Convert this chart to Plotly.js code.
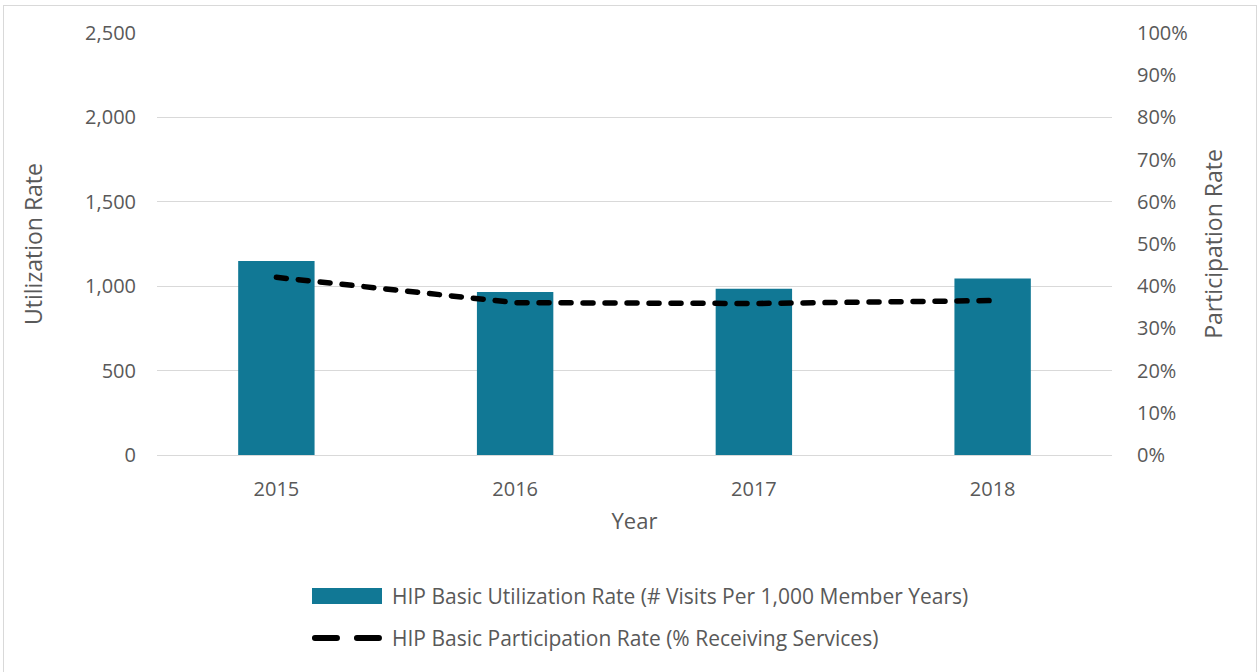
<!DOCTYPE html>
<html>
<head>
<meta charset="utf-8">
<script src="https://cdn.plot.ly/plotly-3.0.1.min.js"></script>
<style>
  html, body { margin: 0; padding: 0; background: #ffffff; }
  #frame { position: absolute; left: 3px; top: 5px; width: 1254px; height: 700px; border: 1px solid #d9d9d9; box-sizing: border-box; }
  #chart { position: absolute; left: 0; top: 0; width: 1260px; height: 672px; }
</style>
</head>
<body>
<div id="frame"></div>
<div id="chart"></div>
<script>
// Years on the category axis
const years = ['2015', '2016', '2017', '2018'];
// Visits per 1,000 member years
const utilization = [1150, 965, 985, 1045];
// Share of members receiving services (fraction)
const participation = [0.421, 0.361, 0.359, 0.366];

const barName = 'HIP Basic Utilization Rate (# Visits Per 1,000 Member Years)';
const lineName = 'HIP Basic Participation Rate (% Receiving Services)';

const textColor = '#595959';
const gridColor = '#d9d9d9';
const barColor = '#117895';
const fontFamily = '"Open Sans", "Noto Sans", sans-serif';

const traces = [
  {
    type: 'bar',
    x: years,
    y: utilization,
    name: barName,
    marker: { color: barColor },
    width: 0.32,
    yaxis: 'y'
  },
  {
    type: 'scatter',
    mode: 'lines',
    x: years,
    y: participation,
    name: lineName,
    line: { color: '#000000', width: 5.5, dash: '10px,12px' },
    yaxis: 'y2'
  }
];

const layout = {
  width: 1260,
  height: 672,
  margin: { l: 157, r: 148, t: 33, b: 217 },
  paper_bgcolor: 'rgba(0,0,0,0)',
  plot_bgcolor: 'rgba(0,0,0,0)',
  showlegend: false,
  font: { family: fontFamily, color: textColor, size: 20 },
  xaxis: {
    type: 'category',
    showgrid: false,
    showline: false,
    zeroline: false,
    ticks: '',
    ticklabelstandoff: 20,
    tickfont: { size: 20, color: textColor },
    title: { text: 'Year', font: { size: 22, color: textColor }, standoff: 12 }
  },
  yaxis: {
    range: [0, 2500],
    dtick: 500,
    tickformat: ',d',
    showgrid: true,
    gridcolor: gridColor,
    gridwidth: 1,
    zeroline: true,
    zerolinecolor: gridColor,
    zerolinewidth: 1,
    showline: false,
    ticks: '',
    ticklabelstandoff: 20,
    tickfont: { size: 20, color: textColor },
    title: { text: 'Utilization Rate', font: { size: 23, color: textColor }, standoff: 36 }
  },
  yaxis2: {
    overlaying: 'y',
    side: 'right',
    range: [0, 1],
    dtick: 0.1,
    tickformat: '.0%',
    showgrid: false,
    zeroline: false,
    showline: false,
    ticks: '',
    ticklabelstandoff: 24,
    tickfont: { size: 20, color: textColor },
    title: { text: 'Participation Rate', font: { size: 23, color: textColor }, standoff: 19 }
  },
  shapes: [
    // legend swatch for the bars
    { type: 'rect', xref: 'paper', yref: 'paper',
      x0: 0.1623, x1: 0.2356, y0: -0.3152, y1: -0.3531,
      fillcolor: barColor, line: { width: 0 } },
    // legend swatch for the dashed line
    { type: 'line', xref: 'paper', yref: 'paper',
      x0: 0.1654, x1: 0.2325, y0: -0.4336, y1: -0.4336,
      line: { color: '#000000', width: 6, dash: '22px,20px' } }
  ],
  annotations: [
    { xref: 'paper', yref: 'paper', x: 0.2440, y: -0.3341, xanchor: 'left', yanchor: 'middle',
      showarrow: false, text: barName, font: { size: 21, color: textColor } },
    { xref: 'paper', yref: 'paper', x: 0.2440, y: -0.4336, xanchor: 'left', yanchor: 'middle',
      showarrow: false, text: lineName, font: { size: 21, color: textColor } }
  ]
};

Plotly.newPlot('chart', traces, layout, { displayModeBar: false, staticPlot: true }).then(function (gd) {
  // rounded dash ends
  gd.querySelectorAll('.scatterlayer path.js-line, .layer-above path, .shapelayer path').forEach(function (p) {
    p.style.strokeLinecap = 'round';
  });
});
</script>
</body>
</html>
